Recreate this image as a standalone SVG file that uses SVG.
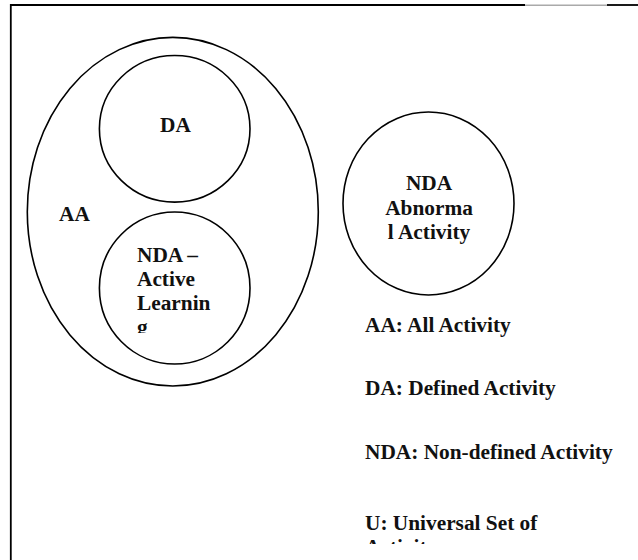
<svg xmlns="http://www.w3.org/2000/svg" width="638" height="560" viewBox="0 0 638 560">
<style>
.set{fill:none;stroke:#000;stroke-width:1.6}
.t{font-family:"Liberation Serif","Times New Roman",serif;font-weight:bold;font-size:21.33px;fill:#111}
.c{text-anchor:middle}
.frame{stroke:#000;stroke-width:1.8;fill:none}
</style>
<defs>
<clipPath id="clipAL"><rect x="90" y="200" width="180" height="133"/></clipPath>
<clipPath id="clipU"><rect x="340" y="480" width="298" height="64"/></clipPath>
</defs>
<rect x="0" y="0" width="638" height="560" fill="#fff"/>
<g id="frame">
<line class="frame" x1="10" y1="5" x2="525" y2="5"/>
<line x1="525" y1="5.3" x2="607" y2="5.3" stroke="#aaa" stroke-width="1.4"/>
<line class="frame" x1="607" y1="5" x2="638" y2="5"/>
<line class="frame" x1="10.8" y1="4.1" x2="10.8" y2="560"/>
</g>
<g id="node-AA">
<ellipse class="set" cx="172.8" cy="211.7" rx="145.5" ry="174.3"/>
<text class="t" x="59" y="221">AA</text>
</g>
<g id="node-DA">
<ellipse class="set" cx="174.7" cy="128.8" rx="75.3" ry="73.3"/>
<text class="t" x="160" y="131.7">DA</text>
</g>
<g id="node-NDA-active">
<ellipse class="set" cx="174.7" cy="288" rx="75.3" ry="76"/>
<g clip-path="url(#clipAL)">
<text class="t" x="137" y="261.5">NDA –</text>
<text class="t" x="137" y="285.8">Active</text>
<text class="t" x="137" y="310">Learnin</text>
<text class="t" x="137" y="334.4">g</text>
</g>
</g>
<g id="node-NDA-abnormal">
<ellipse class="set" cx="428.5" cy="203.5" rx="85.5" ry="91.5"/>
<text class="t c" x="429" y="190">NDA</text>
<text class="t c" x="429" y="214.5">Abnorma</text>
<text class="t c" x="429" y="239">l Activity</text>
</g>
<g id="legend">
<text class="t" x="365" y="332">AA: All Activity</text>
<text class="t" x="365" y="395">DA: Defined Activity</text>
<text class="t" x="365" y="459">NDA: Non-defined Activity</text>
<g clip-path="url(#clipU)">
<text class="t" x="365" y="530">U: Universal Set of</text>
<text class="t" x="365" y="554.4">Activity</text>
</g>
</g>
<g id="connectors"/>
</svg>
